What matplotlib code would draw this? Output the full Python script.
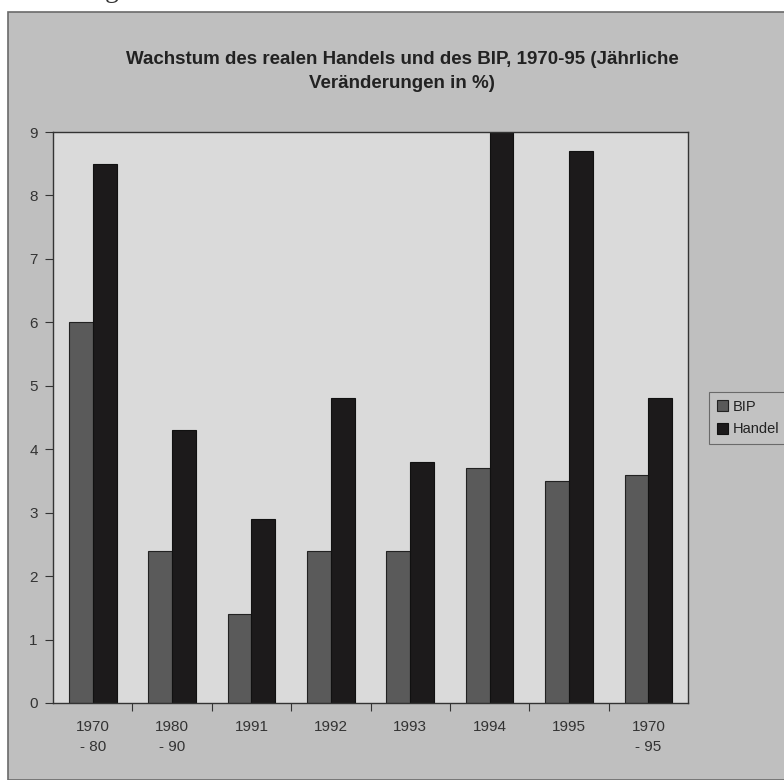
import matplotlib.pyplot as plt
import numpy as np
from matplotlib.patches import Rectangle

plt.rcParams['font.family'] = ['Liberation Sans', 'DejaVu Sans']

# Daten (jährliche Veränderungen in %)
kategorien = ['1970\n- 80', '1980\n- 90', '1991', '1992', '1993', '1994', '1995', '1970\n- 95']
bip = [6.0, 2.4, 1.4, 2.4, 2.4, 3.7, 3.5, 3.6]
handel = [8.5, 4.3, 2.9, 4.8, 3.8, 9.0, 8.7, 4.8]

fig = plt.figure(figsize=(7.84, 7.80), dpi=100)
fig.patch.set_facecolor('white')

# grauer Rahmen des Diagramms (Scan)
fig.patches.append(Rectangle((8 / 784, 0), 1, 1 - 12 / 780, transform=fig.transFigure,
                             facecolor='#bfbfbf', edgecolor='#6a6a6a', linewidth=1.2, zorder=-5))
fig.text(0.0, 1.012, 'Abbildung 3.1', fontsize=20, family='Liberation Serif',
         color='#333333', va='center', ha='left')

ax = fig.add_axes([53 / 784, 1 - 703 / 780, (688 - 53) / 784, (703 - 132) / 780])
ax.set_facecolor('#dadada')

x = np.arange(len(kategorien))
w = 0.30
ax.bar(x - w / 2, bip, w, color='#5a5a5a', edgecolor='#222222', linewidth=0.8, label='BIP')
ax.bar(x + w / 2, handel, w, color='#1c1a1b', edgecolor='#111111', linewidth=0.8, label='Handel')

ax.set_xlim(-0.5, len(kategorien) - 0.5)
ax.set_ylim(0, 9)
ax.set_yticks(range(10))
ax.tick_params(axis='y', direction='out', length=6, width=0.8, labelsize=11, pad=5, colors='#333333')
ax.set_xticks(x)
ax.set_xticklabels(kategorien, fontsize=11, color='#333333', linespacing=1.55)
ax.set_xticks(np.arange(0.5, len(kategorien) - 0.5, 1), minor=True)
ax.tick_params(axis='x', which='major', length=0, pad=12)
ax.tick_params(axis='x', which='minor', direction='out', length=6, width=0.8, color='#333333')
for s in ax.spines.values():
    s.set_color('#333333')
    s.set_linewidth(1.0)

fig.text(402 / 784, 1 - 60 / 780, 'Wachstum des realen Handels und des BIP, 1970-95 (Jährliche',
         ha='center', va='center', fontsize=13.5, fontweight='bold', color='#222222')
fig.text(402 / 784, 1 - 84 / 780, 'Veränderungen in %)',
         ha='center', va='center', fontsize=13.5, fontweight='bold', color='#222222')

leg = fig.legend(loc='center left', bbox_to_anchor=(702 / 784, 1 - 418 / 780), fontsize=10.5,
                 frameon=True, fancybox=False, handlelength=0.8, handleheight=0.8,
                 handletextpad=0.3, borderpad=0.5, labelspacing=0.6)
leg.get_frame().set_facecolor('#c4c4c4')
leg.get_frame().set_edgecolor('#555555')
leg.get_frame().set_linewidth(0.8)
for t in leg.get_texts():
    t.set_color('#222222')

fig.savefig('out.png', dpi=100)
